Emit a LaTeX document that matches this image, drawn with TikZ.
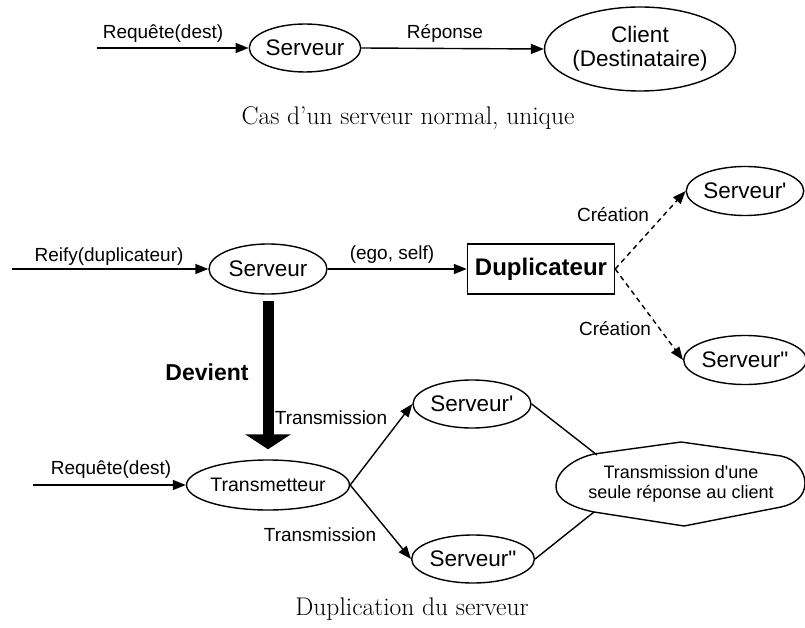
\documentclass[tikz,border=0pt]{standalone}
\usepackage{fontspec}
\newfontfamily\hel{Liberation Sans}
\usetikzlibrary{shapes.geometric,arrows.meta}
\tikzset{
  every picture/.style={x=1pt,y=-1pt},
  oval/.style={draw,ellipse,line width=1.4pt,inner sep=0pt,font=\hel\fontsize{22.5}{25}\selectfont},
  boxnode/.style={draw,rectangle,line width=1.4pt,inner sep=0pt,font=\hel\bfseries\fontsize{24}{27}\selectfont},
  lbl/.style={inner sep=0pt,font=\hel\fontsize{19}{22}\selectfont},
  captxt/.style={inner sep=0pt,font=\fontsize{25.5}{30}\selectfont},
  conn/.style={line width=1.4pt,-{Triangle[length=13pt,width=10pt]}},
  dconn/.style={conn,dash pattern=on 5pt off 4pt},
  plainline/.style={line width=1.4pt},
}
\begin{document}
\begin{tikzpicture}
\useasboundingbox (0,0) rectangle (805,628);

% --- single server case ---
\coordinate (in1) at (97,48);
\node[oval,minimum width=111pt,minimum height=48pt] (s1) at (305,48) {Serveur};
\node[oval,minimum width=170pt,minimum height=84pt,align=center,
      font=\hel\fontsize{22.5}{24}\selectfont] (cli) at (640,49) {Client\\(Destinataire)};
\draw[conn] (in1) -- (s1.west);
\draw[conn] (s1.east) -- (cli.west);
\node[lbl] (l1) at (163,34) {Requête(dest)};
\node[lbl] (l2) at (445,33) {Réponse};
\node[captxt] (c1) at (408,118) {Cas d’un serveur normal, unique};

% --- duplication ---
\coordinate (in2) at (12,269);
\node[oval,minimum width=118pt,minimum height=50pt] (s2) at (268,269) {Serveur};
\node[boxnode,minimum width=147pt,minimum height=50pt] (dup) at (541,269) {Duplicateur};
\node[oval,minimum width=117pt,minimum height=49pt] (sa) at (745,191) {Serveur'};
\node[oval,minimum width=117pt,minimum height=49pt] (sb) at (745,360) {Serveur"};
\draw[conn] (in2) -- (s2.west);
\draw[conn] (s2.east) -- (dup.west);
\draw[dconn] (dup.east) -- (sa.west);
\draw[dconn] (dup.east) -- (sb.west);
\node[lbl] (l3) at (109,257) {Reify(duplicateur)};
\node[lbl] (l4) at (392,255) {(ego, self)};
\node[lbl] (l5) at (613,215) {Création};
\node[lbl] (l6) at (615,329) {Création};

% thick "becomes" arrow
\node[oval,minimum width=136pt,minimum height=50pt,font=\hel\fontsize{19.5}{22}\selectfont] (tr) at (268,485) {Transmetteur};
\draw[line width=11pt,-{Triangle[length=15pt,width=45pt]},shorten <=6pt,shorten >=10pt] (s2.south) -- (tr.north);
\node[inner sep=0pt,font=\hel\bfseries\fontsize{23}{26}\selectfont] (dv) at (207,372) {Devient};

\coordinate (in3) at (33,485);
\node[oval,minimum width=118pt,minimum height=48pt] (sc) at (472,404) {Serveur'};
\node[oval,minimum width=118pt,minimum height=48pt] (sd) at (473,559) {Serveur"};
\draw[conn] (in3) -- (tr.west);
\draw[conn] (tr.east) -- (sc.west);
\draw[conn] (tr.east) -- (sd.west);
\node[lbl] (l7) at (111,470) {Requête(dest)};
\node[lbl] (l8) at (331,418) {Transmission};
\node[lbl] (l9) at (320,535) {Transmission};

% merging shape
\node[inner sep=0pt,align=center,font=\hel\fontsize{18}{20.5}\selectfont] (cl) at (681,484)
  {Transmission d'une\\seule réponse au client};
\draw[plainline,shift={(cl.center)}]
  (-125,3) .. controls (-125,-14) and (-105,-26) .. (-87,-30)
  -- (0,-42) -- (100,-28)
  .. controls (115,-25) and (124,-12) .. (124,-1)
  .. controls (124,12) and (114,20) .. (100,23)
  -- (3,42) -- (-87,28)
  .. controls (-107,24) and (-125,16) .. (-125,3) -- cycle;
\path (cl.center) ++(-84,-29) coordinate (clnw);
\path (cl.center) ++(-87,28) coordinate (clsw);
\draw[plainline] (sc.east) -- (clnw);
\draw[plainline] (sd.east) -- (clsw);

\node[captxt] (c2) at (412,609) {Duplication du serveur};
\end{tikzpicture}
\end{document}
